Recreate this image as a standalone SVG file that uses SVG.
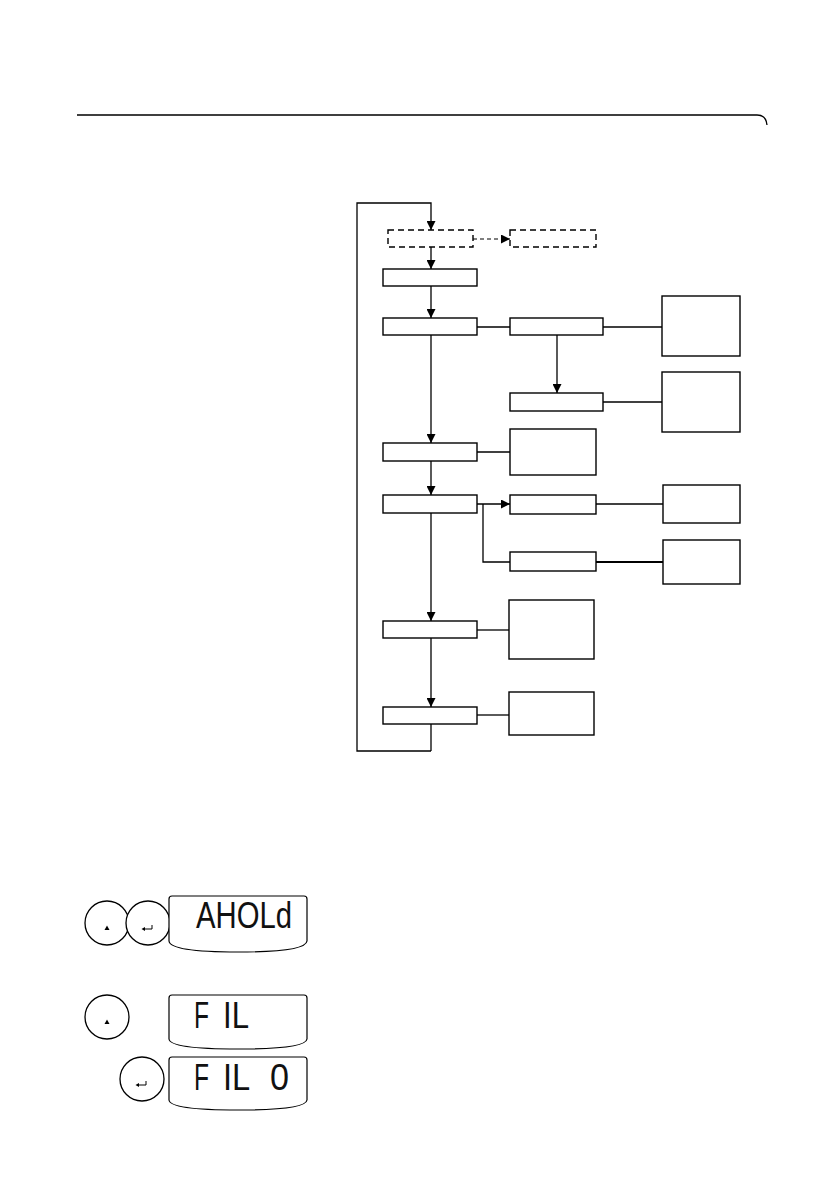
<svg xmlns="http://www.w3.org/2000/svg" width="839" height="1193" viewBox="0 0 839 1193">
<style>
.b{fill:#fff;stroke:#000;stroke-width:1.4}
.d{fill:#fff;stroke:#000;stroke-width:1.4;stroke-dasharray:6,4}
.c{fill:none;stroke:#000;stroke-width:1.3}
.cd{fill:none;stroke:#555;stroke-width:1.3;stroke-dasharray:4,3}
.btn{fill:#fff;stroke:#000;stroke-width:1.3}
.lcd{fill:#fff;stroke:#000;stroke-width:1.2}
.t{font-family:"Liberation Sans",Arial,sans-serif;font-size:37px;fill:#111}
</style>
<defs>
<marker id="ah" viewBox="0 0 10 10" refX="10" refY="5" markerWidth="10" markerHeight="9" markerUnits="userSpaceOnUse" orient="auto">
<path d="M0,0 L10,5 L0,10 Z" fill="#000"/>
</marker>
</defs>
<rect width="839" height="1193" fill="#fff"/>
<path class="c" d="M77,115 H757 Q766,115 767,125"/>

<g id="connectors">
<path class="c" d="M431,751 H357 V203 H431 V230" marker-end="url(#ah)"/>
<path class="c" d="M431,247 V269" marker-end="url(#ah)"/>
<path class="cd" d="M473,239 H510" marker-end="url(#ah)"/>
<path class="c" d="M431,286 V318" marker-end="url(#ah)"/>
<path class="c" d="M477,327 H510"/>
<path class="c" d="M603,327 H662"/>
<path class="c" d="M557,335 V393" marker-end="url(#ah)"/>
<path class="c" d="M603,402 H662"/>
<path class="c" d="M431,335 V443" marker-end="url(#ah)"/>
<path class="c" d="M477,452 H510"/>
<path class="c" d="M431,461 V495" marker-end="url(#ah)"/>
<path class="c" d="M477,504 H510" marker-end="url(#ah)"/>
<path class="c" d="M483,504 V562 H510"/>
<path class="c" d="M596,504 H663"/>
<path class="c" d="M596,562 H663" style="stroke-width:1.8"/>
<path class="c" d="M431,513 V621" marker-end="url(#ah)"/>
<path class="c" d="M477,630 H509"/>
<path class="c" d="M431,638 V707" marker-end="url(#ah)"/>
<path class="c" d="M477,715 H509"/>
<path class="c" d="M431,724 V751"/>
</g>

<g id="n1"><rect class="d" x="388" y="230" width="85" height="17"/></g>
<g id="n2"><rect class="d" x="510" y="230" width="86" height="17"/></g>
<g id="n3"><rect class="b" x="383" y="269" width="94" height="17"/></g>
<g id="n4"><rect class="b" x="383" y="318" width="94" height="17"/></g>
<g id="n5"><rect class="b" x="510" y="318" width="93" height="17"/></g>
<g id="n6"><rect class="b" x="510" y="393" width="93" height="18"/></g>
<g id="nA"><rect class="b" x="662" y="296" width="78" height="60"/></g>
<g id="nB"><rect class="b" x="662" y="372" width="78" height="60"/></g>
<g id="n7"><rect class="b" x="383" y="443" width="94" height="18"/></g>
<g id="nC"><rect class="b" x="510" y="429" width="86" height="46"/></g>
<g id="n8"><rect class="b" x="383" y="495" width="94" height="18"/></g>
<g id="n9"><rect class="b" x="510" y="495" width="86" height="19"/></g>
<g id="nD"><rect class="b" x="663" y="485" width="77" height="38"/></g>
<g id="n10"><rect class="b" x="510" y="552" width="86" height="19"/></g>
<g id="nE"><rect class="b" x="663" y="540" width="77" height="44"/></g>
<g id="n11"><rect class="b" x="383" y="621" width="94" height="17"/></g>
<g id="nF"><rect class="b" x="509" y="600" width="85" height="59"/></g>
<g id="n12"><rect class="b" x="383" y="707" width="94" height="17"/></g>
<g id="nG"><rect class="b" x="509" y="692" width="85" height="43"/></g>

<g id="display1">
<circle class="btn" cx="107" cy="923" r="22"/>
<path d="M104.5,930 L107,925.5 L109.5,930 Z" fill="#000"/>
<circle class="btn" cx="148" cy="923" r="22"/>
<path d="M152,925 V929 H144" fill="none" stroke="#000" stroke-width="1"/>
<path d="M141.5,929 L145,927 L145,931 Z" fill="#000"/>
<path class="lcd" d="M172,896 H304 Q307,896 307,899 V941 Q306,952 238,952 Q170,952 169,941 V899 Q169,896 172,896 Z"/>
<text class="t" x="196" y="928" textLength="96" lengthAdjust="spacingAndGlyphs">AHOLd</text>
</g>
<g id="display2">
<circle class="btn" cx="107" cy="1017" r="22"/>
<path d="M104.5,1024 L107,1019.5 L109.5,1024 Z" fill="#000"/>
<path class="lcd" d="M172,995 H304 Q307,995 307,998 V1039 Q306,1049 238,1049 Q170,1049 169,1039 V998 Q169,995 172,995 Z"/>
<text class="t" y="1028"><tspan x="194" textLength="15" lengthAdjust="spacingAndGlyphs">F</tspan> <tspan x="223" textLength="26" lengthAdjust="spacingAndGlyphs">IL</tspan></text>
</g>
<g id="display3">
<circle class="btn" cx="142" cy="1079" r="22"/>
<path d="M146,1081 V1085 H138" fill="none" stroke="#000" stroke-width="1"/>
<path d="M135.5,1085 L139,1083 L139,1087 Z" fill="#000"/>
<path class="lcd" d="M172,1057 H304 Q307,1057 307,1060 V1100 Q306,1110 238,1110 Q170,1110 169,1100 V1060 Q169,1057 172,1057 Z"/>
<text class="t" y="1090"><tspan x="194" textLength="15" lengthAdjust="spacingAndGlyphs">F</tspan> <tspan x="223" textLength="26" lengthAdjust="spacingAndGlyphs">IL</tspan> <tspan x="270" textLength="19" lengthAdjust="spacingAndGlyphs">0</tspan></text>
</g>
</svg>
